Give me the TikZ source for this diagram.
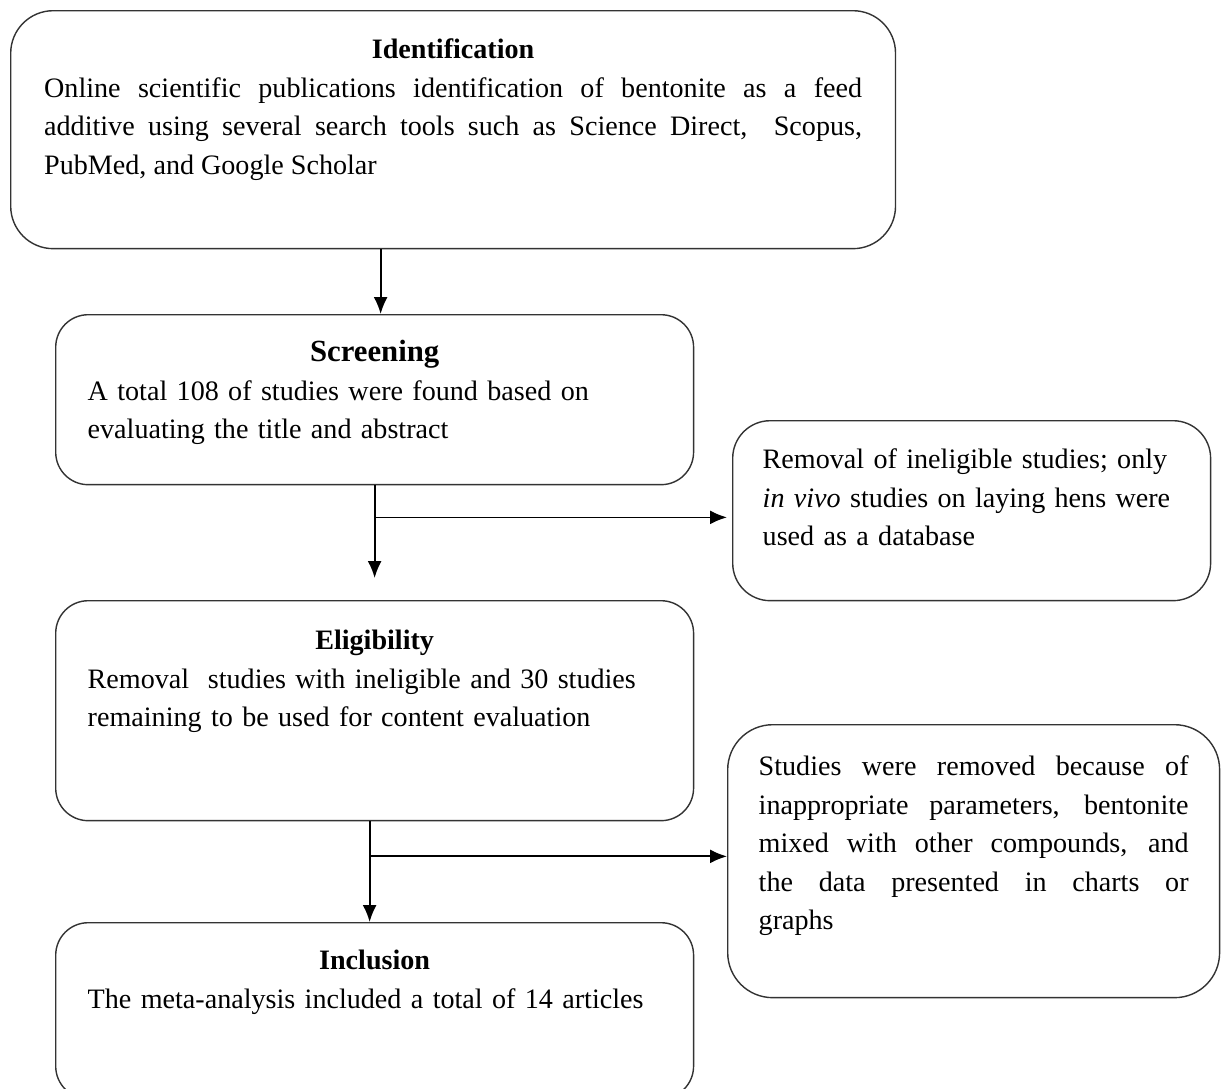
\documentclass[tikz,border=0pt]{standalone}
\usepackage{fontspec}
\setmainfont{Liberation Serif}
\usetikzlibrary{arrows.meta,positioning,calc}

\begin{document}
\begin{tikzpicture}[x=0.02cm, y=-0.02cm,
  every node/.style={font={\fontsize{16}{21.9}\selectfont}},
  stage/.style={draw=black!80, line width=0.8pt, rounded corners=0.65cm,
    anchor=north west, inner sep=0pt, align=left},
  flow/.style={draw=black, line width=1pt, -{Latex[length=3.4mm, width=2.8mm]}}]
  \useasboundingbox (0,0) rectangle (1221,1089);

  % stages on the left
  \node[stage, rounded corners=0.85cm, minimum width=17.7cm, text width=16.36cm,
    align=justify, text height=0.96cm, text depth=3.80cm] (ident) at (10,10)
    {{\centering\bfseries Identification\par}Online scientific publications identification of bentonite as a feed\linebreak
     additive using several search tools such as Science Direct,\ \ Scopus,\linebreak
     PubMed, and Google Scholar};
  \node[stage, minimum width=12.76cm, text width=11.48cm,
    text height=0.94cm, text depth=2.46cm] (scr) at (55,314)
    {{\centering\bfseries\fontsize{17.5}{21.9}\selectfont Screening\par}A total 108 of studies were found based on\\
     evaluating the title and abstract};
  \node[stage, minimum width=12.76cm, text width=11.48cm,
    text height=0.98cm, text depth=3.42cm] (elig) at (55,600)
    {{\centering\bfseries Eligibility\par}Removal\ \ studies with ineligible and 30 studies\\
     remaining to be used for content evaluation};
  \node[stage, minimum width=12.76cm, text width=11.48cm,
    text height=0.94cm, text depth=2.58cm] (incl) at (55,922)
    {{\centering\bfseries Inclusion\par}The meta-analysis included a total of 14 articles};

  % excluded records on the right
  \node[stage, rounded corners=0.75cm, minimum width=9.56cm, text width=8.36cm,
    text height=0.96cm, text depth=2.64cm] (remov) at (732,420)
    {Removal of ineligible studies; only\\
     \textit{in vivo} studies on laying hens were\\
     used as a database};
  \node[stage, rounded corners=0.9cm, minimum width=9.84cm, text width=8.6cm,
    align=justify, text height=1.02cm, text depth=4.44cm] (excl) at (727,724)
    {Studies were removed because of\linebreak
     inappropriate parameters, bentonite\linebreak
     mixed with other compounds, and\linebreak
     the data presented in charts or\linebreak
     graphs};

  % main flow
  \draw[flow] ($(ident.south -| scr.north)+(6,0)$) -- ($(scr.north)+(6,0)$);
  \draw[flow, shorten >=0.44cm] (scr) -- (elig);
  \draw[flow] ($(elig.south)+(-5,0)$) -- ($(incl.north)+(-5,0)$);

  % side branches
  \coordinate (split1) at ($(scr.south)+(0,32)$);
  \coordinate (split2) at ($(elig.south)+(-5,35)$);
  \draw[flow, shorten >=1mm] (split1) -- (split1 -| remov.west);
  \draw[flow] (split2) -- (split2 -| excl.west);
\end{tikzpicture}
\end{document}
